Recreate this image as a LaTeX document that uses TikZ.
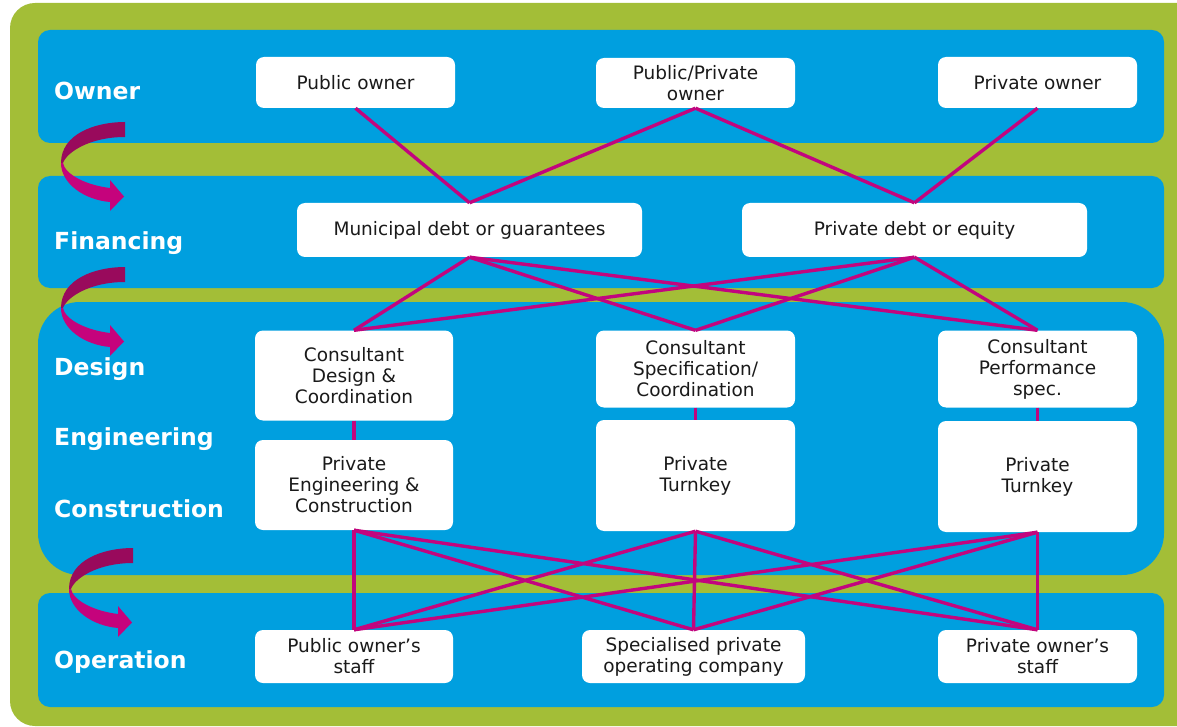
\documentclass[tikz,border=0pt]{standalone}
\usepackage{fontspec}
\setmainfont{DejaVu Sans}
\definecolor{bggreen}{HTML}{A3BE37}
\definecolor{bandblue}{HTML}{009FDF}
\definecolor{linkmag}{HTML}{C2057E}
\definecolor{arrdark}{HTML}{990A5C}
\definecolor{arrbright}{HTML}{C5037C}
\definecolor{textgray}{HTML}{1A1A1A}
\begin{document}
\begin{tikzpicture}[x=1pt,y=-1pt,
  band/.style={fill=bandblue, rounded corners=12pt},
  box/.style={fill=white, rounded corners=8pt, inner sep=0pt, align=center,
    font=\fontsize{18.5}{21}\selectfont, text=textgray},
  lbl/.style={anchor=base west, text=white, inner sep=0pt,
    font=\fontsize{23.5}{28}\selectfont\bfseries},
  link/.style={draw=linkmag, line width=3.4pt},
  ribbon/.pic={
    \fill[arrdark] (0,0) .. controls (-30,0) and (-64,12) .. (-64,41)
      -- (-62,41) .. controls (-58,30) and (-35,15) .. (0,15) -- cycle;
    \fill[arrbright] (-64,41) .. controls (-64,62) and (-40,78) .. (-15,80)
      -- (-15,89) -- (-1,74.5) -- (-15,58) -- (-15,66)
      .. controls (-40,63) and (-60,52) .. (-62,41) -- cycle;
  }]
\useasboundingbox (0,0) rectangle (1177,727);
% background
\fill[bggreen, rounded corners=25pt] (10,3) rectangle (1240,726);
% bands
\fill[band] (38,30) rectangle (1164,143);
\fill[band] (38,176) rectangle (1164,288);
\fill[bandblue, rounded corners=42pt] (38,302) rectangle (1164,575);
\fill[band] (38,593) rectangle (1164,707);
% ribbon arrows
\pic at (125,122) {ribbon};
\pic at (125,267) {ribbon};
\pic at (133,548) {ribbon};
% row labels
\node[lbl] (lowner) at (54,100) {Owner};
\node[lbl] (lfin) at (54,250) {Financing};
\node[lbl] (ldes) at (54,375) {Design};
\node[lbl] (leng) at (54,445) {Engineering};
\node[lbl] (lcon) at (54,517) {Construction};
\node[lbl] (lop) at (54,668) {Operation};
% boxes
\node[box, minimum width=199pt, minimum height=51pt] (pubown) at (355.5,82.5) {Public owner};
\node[box, minimum width=199pt, minimum height=50pt] (ppown) at (695.5,83) {Public/Private\\owner};
\node[box, minimum width=199pt, minimum height=51pt] (privown) at (1037.5,82.5) {Private owner};
\node[box, minimum width=345pt, minimum height=54pt] (muni) at (469.5,230) {Municipal debt or guarantees};
\node[box, minimum width=345pt, minimum height=54pt] (pdebt) at (914.5,230) {Private debt or equity};
\node[box, minimum width=198pt, minimum height=90pt] (cdes) at (354,375.5) {Consultant\\Design \&\\Coordination};
\node[box, minimum width=198pt, minimum height=90pt] (peng) at (354,485) {Private\\Engineering \&\\Construction};
\node[box, minimum width=199pt, minimum height=77pt] (cspec) at (695.5,369) {Consultant\\Specification/\\Coordination};
\node[box, minimum width=199pt, minimum height=111pt] (tk1) at (695.5,475.5) {Private\\Turnkey};
\node[box, minimum width=199pt, minimum height=77pt] (cperf) at (1037.5,369) {Consultant\\Performance\\spec.};
\node[box, minimum width=199pt, minimum height=111pt] (tk2) at (1037.5,476.5) {Private\\Turnkey};
\node[box, minimum width=198pt, minimum height=53pt] (pstaff) at (354,656.5) {Public owner’s\\staff};
\node[box, minimum width=223pt, minimum height=53pt] (spec) at (693.5,656.5) {Specialised private\\operating company};
\node[box, minimum width=199pt, minimum height=53pt] (prstaff) at (1037.5,656.5) {Private owner’s\\staff};
% connectors
\draw[link] (pubown.south) -- (muni.north);
\draw[link] (ppown.south) -- (muni.north);
\draw[link] (ppown.south) -- (pdebt.north);
\draw[link] (privown.south) -- (pdebt.north);
\foreach \f in {muni,pdebt}{
  \foreach \c in {cdes,cspec,cperf}{
    \draw[link] (\f.south) -- (\c.north);
  }
}
\draw[link] (cdes.south) -- (peng.north);
\draw[link] (cspec.south) -- (tk1.north);
\draw[link] (cperf.south) -- (tk2.north);
\foreach \p in {peng,tk1,tk2}{
  \foreach \o in {pstaff,spec,prstaff}{
    \draw[link] (\p.south) -- (\o.north);
  }
}
\end{tikzpicture}
\end{document}
